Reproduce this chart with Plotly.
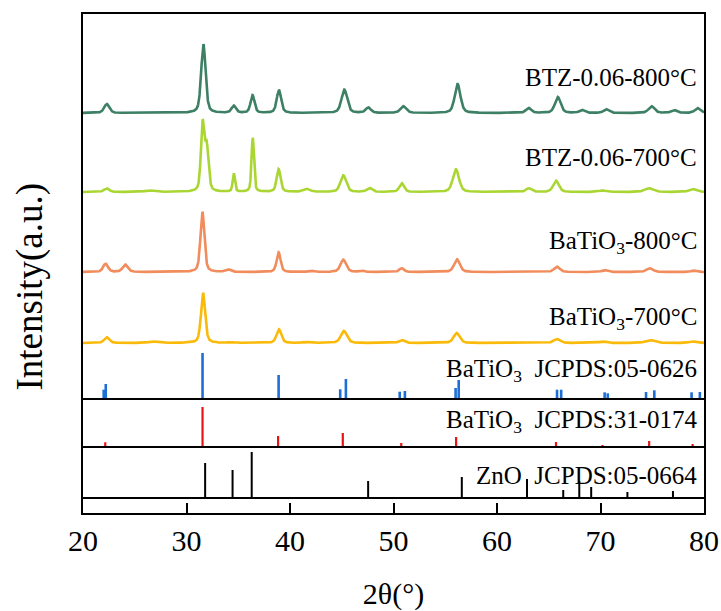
import numpy as np
import plotly.graph_objects as go

# ---- measured patterns: peak positions (2θ, °), peak heights and widths (a.u.) ----
two_theta = np.linspace(20, 80, 3001)

btz800_base = 286
btz800_pos = [22.3, 31.63, 34.57, 36.38, 38.93, 45.25, 47.56, 50.96, 56.19, 63.06, 65.87, 68.2, 70.55, 74.94, 77.1, 79.36]
btz800_h = [9, 69, 7, 17.6, 23, 23.3, 5.3, 6.7, 29, 5, 16, 3, 3.7, 6.7, 3, 5]
btz800_w = [0.6, 0.5, 0.5, 0.45, 0.5, 0.65, 0.6, 0.65, 0.65, 0.6, 0.65, 0.6, 0.6, 0.7, 0.6, 0.6]

btz700_base = 207
btz700_pos = [22.3, 26.4, 31.55, 31.95, 34.57, 36.4, 38.9, 41.6, 45.15, 47.67, 50.8, 56.03, 63.06, 65.7, 70.2, 74.7, 78.9]
btz700_h = [3.5, 1.5, 66, 44, 18.4, 54, 22.7, 3, 16.7, 4, 8.7, 22.7, 3.7, 11.3, 1.5, 3.7, 3]
btz700_w = [0.6, 1.0, 0.38, 0.42, 0.26, 0.28, 0.45, 0.8, 0.65, 0.6, 0.55, 0.7, 0.6, 0.65, 0.8, 1.0, 0.8]

bto800_base = 127
bto800_pos = [22.18, 24.08, 31.54, 34.0, 38.9, 42.0, 45.15, 46.9, 50.8, 56.13, 65.8, 70.4, 74.77, 79.0]
bto800_h = [8.3, 7.3, 60, 2.5, 19.7, 1.5, 12.3, 1.5, 3.7, 12.7, 5.3, 2, 3.7, 1.5]
bto800_w = [0.55, 0.6, 0.45, 0.6, 0.45, 0.6, 0.65, 0.5, 0.55, 0.65, 0.65, 0.6, 0.75, 0.6]

bto700_base = 56
bto700_pos = [22.3, 26.8, 31.6, 34.3, 38.93, 41.6, 45.2, 50.8, 56.1, 65.8, 70.2, 74.8, 78.9]
bto700_h = [5.7, 1.5, 50, 1, 13.7, 1, 12, 3, 10, 4, 1.5, 3, 1.5]
bto700_w = [0.6, 1.0, 0.48, 0.6, 0.55, 0.8, 0.7, 0.6, 0.7, 0.75, 0.8, 1.0, 0.8]

# ---- reference cards: line positions (2θ, °) and relative intensities ----
pdf0626_base = 0
pdf0626_pos = [22.0, 22.2, 31.55, 38.9, 44.85, 45.4, 50.6, 51.1, 56.0, 56.3, 65.8, 66.2, 70.4, 70.7, 74.4, 75.2, 78.8, 79.6]
pdf0626_h = [9.3, 15, 46, 24, 9.7, 20, 7.3, 8, 11, 19, 9.3, 9.3, 6.7, 5.7, 7, 8.7, 6.7, 7]

pdf0174_base = -48
pdf0174_pos = [22.15, 31.55, 38.85, 45.1, 50.75, 56.05, 65.7, 70.2, 74.7, 78.9]
pdf0174_h = [4.7, 40, 11, 14, 4, 10, 5, 2, 6, 3]

pdf0664_base = -99
pdf0664_pos = [31.8, 34.45, 36.3, 47.55, 56.6, 62.9, 66.4, 67.95, 69.1, 72.6, 77.0]
pdf0664_h = [35, 28, 46, 17, 21, 19, 8, 17, 11, 6, 7]

y_bottom, y_top = -114, 385
x_ticks = [20, 30, 40, 50, 60, 70, 80]

SERIF = "Liberation Serif"


def pattern(base, pos, h, w):
    """Sum of pseudo-Voigt peaks on a flat background."""
    y = np.full_like(two_theta, float(base))
    for p, a, f in zip(pos, h, w):
        d = (two_theta - p) / (f / 2)
        gauss = np.exp(-np.log(2) * d ** 2)
        lor = 1 / (1 + d ** 2)
        y += a * (0.55 * gauss + 0.45 * lor)
    return y


def sticks(base, pos, h):
    xs, ys = [], []
    for p, a in zip(pos, h):
        xs += [p, p, None]
        ys += [base, base + a, None]
    return xs, ys


fig = go.Figure()

curves = [
    (btz800_base, btz800_pos, btz800_h, btz800_w, "rgb(61,128,101)"),
    (btz700_base, btz700_pos, btz700_h, btz700_w, "rgb(170,214,52)"),
    (bto800_base, bto800_pos, bto800_h, bto800_w, "rgb(241,140,92)"),
    (bto700_base, bto700_pos, bto700_h, bto700_w, "rgb(250,186,10)"),
]
for base, pos, h, w, col in curves:
    fig.add_trace(go.Scatter(x=two_theta, y=pattern(base, pos, h, w), mode="lines",
                             line=dict(color=col, width=2.6), hoverinfo="skip"))

cards = [
    (pdf0626_base, pdf0626_pos, pdf0626_h, "rgb(30,110,215)", 2.6),
    (pdf0174_base, pdf0174_pos, pdf0174_h, "rgb(232,20,20)", 2.2),
    (pdf0664_base, pdf0664_pos, pdf0664_h, "black", 2.0),
]
for base, pos, h, col, lw in cards:
    sx, sy = sticks(base, pos, h)
    fig.add_trace(go.Scatter(x=sx, y=sy, mode="lines", line=dict(color=col, width=lw)))

# panel separators under each card and at the top of the tick strip
for yb in (pdf0626_base, pdf0174_base, pdf0664_base):
    fig.add_shape(type="line", xref="x domain", x0=0, x1=1, yref="y", y0=yb, y1=yb,
                  line=dict(color="black", width=2))

fig.update_xaxes(range=[20, 80], showline=True, mirror=True, linecolor="black", linewidth=2,
                 showgrid=False, zeroline=False, automargin=False,
                 ticks="inside", ticklen=10, tickwidth=2, tickcolor="black",
                 tickvals=x_ticks,
                 tickfont=dict(family=SERIF, size=30, color="black"),
                 title=dict(text="2θ(°)", font=dict(family=SERIF, size=30, color="black"), standoff=30))
fig.update_yaxes(range=[y_bottom, y_top], showline=True, mirror=True, linecolor="black", linewidth=2,
                 showgrid=False, zeroline=False, showticklabels=False, ticks="", automargin=False)

label_font = dict(family=SERIF, size=25, color="black")
labels = [
    ("BTZ-0.06-800°C", 322),
    ("BTZ-0.06-700°C", 242),
    ("BaTiO<sub>3</sub>-800°C", 157),
    ("BaTiO<sub>3</sub>-700°C", 81),
    ("BaTiO<sub>3</sub>\u00a0\u00a0JCPDS:05-0626", 29),
    ("BaTiO<sub>3</sub>\u00a0\u00a0JCPDS:31-0174", -22),
    ("ZnO\u00a0\u00a0JCPDS:05-0664", -76),
]
for text, yv in labels:
    fig.add_annotation(text=text, x=79.5, y=yv, xref="x", yref="y",
                       xanchor="right", yanchor="middle", showarrow=False, font=label_font)

fig.add_annotation(text="Intensity(a.u.)", xref="paper", yref="paper", x=-0.086, y=0.453,
                   textangle=-90, showarrow=False, xanchor="center", yanchor="middle",
                   font=dict(family=SERIF, size=37, color="black"))

fig.update_layout(width=721, height=611, margin=dict(l=83, r=17, t=14, b=98),
                  paper_bgcolor="white", plot_bgcolor="white", showlegend=False)

fig.write_html("out.html")
